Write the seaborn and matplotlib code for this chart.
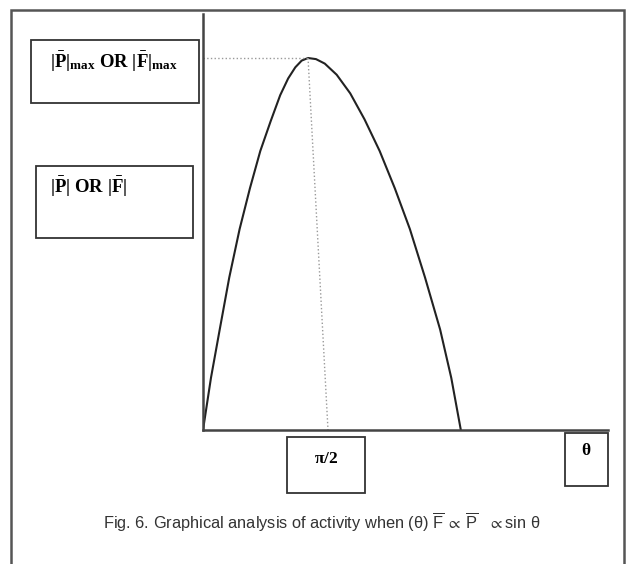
import numpy as np
import pandas as pd
import seaborn as sns
import matplotlib.pyplot as plt
from matplotlib.patches import Rectangle

sns.set_style('white')
plt.rcParams['font.family'] = ['Liberation Sans', 'DejaVu Sans']
plt.rcParams['mathtext.fontset'] = 'custom'
plt.rcParams['mathtext.rm'] = 'Liberation Serif'
plt.rcParams['mathtext.bf'] = 'Liberation Serif:bold'
plt.rcParams['mathtext.sf'] = 'Liberation Sans'
plt.rcParams['mathtext.fallback'] = 'stix'

theta = [0.0, 0.10, 0.21, 0.33, 0.46, 0.59, 0.72, 0.85, 0.97, 1.07, 1.16, 1.24, 1.32,
         1.42, 1.53, 1.68, 1.85, 2.03, 2.22, 2.41, 2.60, 2.79, 2.98, 3.12, 3.24]
force = [0.0, 0.14, 0.27, 0.41, 0.54, 0.65, 0.75, 0.83, 0.90, 0.945, 0.975, 0.993, 1.0,
         0.997, 0.985, 0.955, 0.905, 0.835, 0.75, 0.65, 0.54, 0.41, 0.27, 0.14, 0.0]
half_pi = np.pi / 2

max_label = r"$\mathbf{|\bar{P}|_{max}}$ OR $\mathbf{|\bar{F}|_{max}}$"
y_label = r"$\mathbf{|\bar{P}|}$ OR $\mathbf{|\bar{F}|}$"
x_tick_label = r"$\mathbf{\pi/2}$"
x_label = r"$\mathbf{\theta}$"
caption = ("Fig. 6. Graphical analysis of activity when (\u03b8) "
           r"$\overline{\mathsf{F}}\,\propto\,\overline{\mathsf{P}}\ \ \propto$" "sin \u03b8")

df = pd.DataFrame({'theta': theta, 'force': force})

W, H = 626, 564
fig = plt.figure(figsize=(W / 100, H / 100), dpi=100)

# background layer in pixel units for frame, boxes and caption
bg = fig.add_axes([0, 0, 1, 1])
bg.set_xlim(0, W)
bg.set_ylim(H, 0)
bg.axis('off')

edge = '#555555'
bg.plot([11, 11, 624, 624], [H + 5, 10, 10, H + 5], color=edge, lw=1.8, solid_joinstyle='miter')

boxes = [(31, 40, 168, 63), (36, 166, 157, 72), (287, 437, 78, 56), (565, 433, 43, 53)]
for x0, y0, w, h in boxes:
    bg.add_patch(Rectangle((x0, y0), w, h, fill=False, edgecolor='#333333', lw=1.3))

serif = dict(family='Liberation Serif', weight='bold', color='black')
bg.text(114, 62, max_label, ha='center', va='center', fontsize=13.5, **serif)
bg.text(50, 187, y_label, ha='left', va='center', fontsize=13.5, **serif)
bg.text(326, 459, x_tick_label, ha='center', va='center', fontsize=12.5, **serif)
bg.text(586, 451, x_label, ha='center', va='center', fontsize=12.5, **serif)
bg.text(322, 522, caption, ha='center', va='center', fontsize=11.8, color='#333333',
        family=['Liberation Sans', 'DejaVu Sans'])

# main plot area
x0, x1, y_top, y_bot = 203, 608, 14, 430
ax = fig.add_axes([x0 / W, 1 - y_bot / H, (x1 - x0) / W, (y_bot - y_top) / H])
ax.patch.set_alpha(0)
px_per_rad = 125 / half_pi
ax.set_xlim(0, (x1 - x0) / px_per_rad)
ax.set_ylim(0, (y_bot - y_top) / 372)

sns.lineplot(data=df, x='theta', y='force', sort=False, color='#222222', lw=1.5, ax=ax)

peak = df.loc[df['force'].idxmax()]
ax.plot([0, peak['theta']], [peak['force'], peak['force']], ls=':', color='#999999', lw=1)
ax.plot([peak['theta'], half_pi], [peak['force'], 0], ls=':', color='#999999', lw=1)

for s in ['top', 'right']:
    ax.spines[s].set_visible(False)
for s in ['left', 'bottom']:
    ax.spines[s].set_color('#444444')
    ax.spines[s].set_linewidth(1.8)
ax.set_xticks([])
ax.set_yticks([])
ax.set_xlabel('')
ax.set_ylabel('')

fig.savefig('out.png', dpi=100)
